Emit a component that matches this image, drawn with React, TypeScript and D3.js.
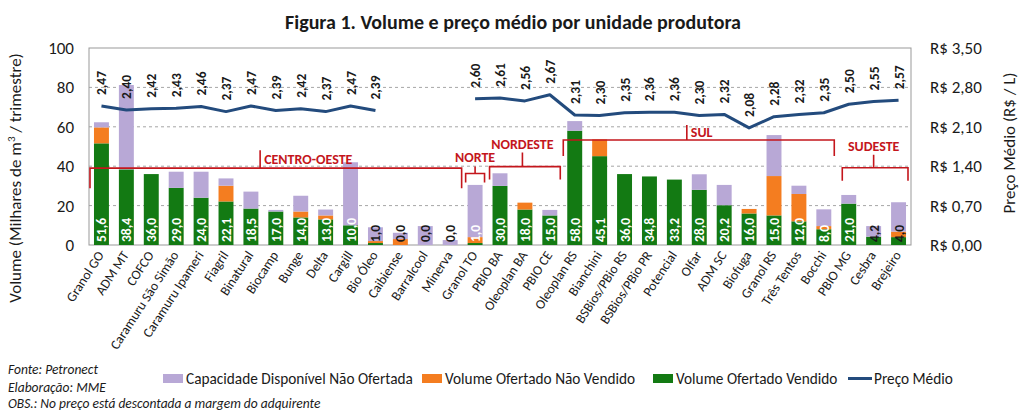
import React from 'react';
import * as d3 from 'd3';

const categories = [
  'Granol GO', 'ADM MT', 'COFCO', 'Caramuru São Simão', 'Caramuru Ipameri', 'Fiagril',
  'Binatural', 'Biocamp', 'Bunge', 'Delta', 'Cargill', 'Bio Óleo', 'Caibiense',
  'Barralcool', 'Minerva', 'Granol TO', 'PBIO BA', 'Oleoplan BA', 'PBIO CE',
  'Oleoplan RS', 'Bianchini', 'BSBios/PBio RS', 'BSBios/PBio PR', 'Potencial',
  'Olfar', 'ADM SC', 'Biofuga', 'Granol RS', 'Três Tentos', 'Bocchi', 'PBIO MG',
  'Cesbra', 'Brejeiro',
];

const vendido = [
  51.6, 38.4, 36.0, 29.0, 24.0, 22.1, 18.5, 17.0, 14.0, 13.0, 10.0, 1.0, 0.0,
  0.0, 0.0, 1.0, 30.0, 18.0, 15.0, 58.0, 45.1, 36.0, 34.8, 33.2, 28.0, 20.2,
  16.0, 15.0, 12.0, 8.0, 21.0, 4.2, 4.0,
];

const naoVendido = [
  8.1, 0, 0, 0, 0, 8.0, 0, 0, 3.0, 2.0, 0, 1.0, 3.0, 0, 0, 3.0, 0, 3.5, 0,
  0, 8.5, 0, 0, 0, 0, 0, 2.3, 20.0, 13.9, 1.6, 0, 0, 2.8,
];

const capacidade = [
  2.6, 42.8, 0, 8.2, 13.2, 3.7, 8.6, 0.8, 8.0, 3.0, 32.0, 7.0, 3.2, 9.6, 2.5,
  26.5, 6.4, 0, 2.8, 4.9, 0, 0, 0, 0, 7.9, 10.3, 0, 20.8, 4.2, 8.5, 4.4, 5.4, 14.9,
];

const precos: (number | null)[] = [
  2.47, 2.40, 2.42, 2.43, 2.46, 2.37, 2.47, 2.39, 2.42, 2.37, 2.47, 2.39, null,
  null, null, 2.60, 2.61, 2.56, 2.67, 2.31, 2.30, 2.35, 2.36, 2.36, 2.30, 2.32,
  2.08, 2.28, 2.32, 2.35, 2.50, 2.55, 2.57,
];

const volumeTicks = [0, 20, 40, 60, 80, 100];
const precoTicks = [0, 0.7, 1.4, 2.1, 2.8, 3.5];

const regionNames = ['CENTRO-OESTE', 'NORTE', 'NORDESTE', 'SUL', 'SUDESTE'];
const regionFirst = [0, 15, 16, 19, 30];
const regionLast = [14, 15, 18, 29, 32];
const regionLevel = [39, 36.3, 39.8, 53.3, 39.2];

const seriesNames = ['Capacidade Disponível Não Ofertada', 'Volume Ofertado Não Vendido', 'Volume Ofertado Vendido', 'Preço Médio'];

// layout (not data)
const W = 1024, H = 416;
const M = { left: 89, right: 911, top: 48, bottom: 245 };
const FONT = 'Carlito, Calibri, Lato, sans-serif';
const C = {
  green: '#137A13', orange: '#F47D20', lav: '#B8A8D6', line: '#234B7D',
  red: '#C4161C', grid: '#A6A6A6', text: '#1A1A1A',
};
const bracketTickAt = [6.87, 15.5, 17.4, 24.0, 31.5];
const bracketDrop = [20, 9, 13, 16, 13];
const bracketTick = [18, 7, 14, 15, 13];
const bracketInsetL = [1, 3, 2, 1, 6];
const bracketInsetR = [1, 3, 2, 2, 3];
const bracketLabelRight = [true, false, false, true, false];
const legendX = [163, 422, 653, 848];

export default function App() {
  const x = d3.scaleBand<string>().domain(categories).range([M.left, M.right]).paddingInner(0.4).paddingOuter(0.2);
  const y = d3.scaleLinear().domain([0, 100]).range([M.bottom, M.top]);
  const yR = d3.scaleLinear().domain([0, 3.5]).range([M.bottom, M.top]);
  const step = x.step();
  const bw = x.bandwidth();
  const cx = (i: number) => (x(categories[i]) as number) + bw / 2;
  const xu = (u: number) => M.left + u * step;

  const stackData = categories.map((c, i) => ({ c, v: vendido[i], n: naoVendido[i], k: capacidade[i] }));
  const stack = d3.stack<any>().keys(['v', 'n', 'k'])(stackData);
  const colors = [C.green, C.orange, C.lav];

  const line = d3.line<number | null>()
    .defined((d) => d != null)
    .x((_, i) => cx(i))
    .y((d) => yR(d as number));

  const fmt = (v: number) => d3.format('.1f')(v).replace('.', ',');
  const fmt2 = (v: number) => d3.format('.2f')(v).replace('.', ',');

  return (
    <svg width={W} height={H} style={{ position: 'absolute', left: 0, top: 0, display: 'block', background: '#fff' }} fontFamily={FONT}>
      <rect x={0} y={0} width={W} height={H} fill="#fff" />
      <text x={513} y={29} textAnchor="middle" fontSize={20} fontWeight="bold" fill={C.text}>
        Figura 1. Volume e preço médio por unidade produtora
      </text>

      {volumeTicks.filter((t) => t > 0 && t < 100).map((t) => (
        <line key={t} x1={M.left} x2={M.right} y1={y(t)} y2={y(t)} stroke={C.grid} strokeDasharray="3,3" strokeWidth={1} />
      ))}
      <rect x={M.left} y={M.top} width={M.right - M.left} height={M.bottom - M.top} fill="none" stroke="#999" strokeWidth={1} />

      {stack.map((s, si) => (
        <g key={si} fill={colors[si]}>
          {s.map((d, i) => (d[1] - d[0] > 0 ? (
            <rect key={i} x={x(categories[i])} y={y(d[1])} width={bw} height={y(d[0]) - y(d[1])} />
          ) : null))}
        </g>
      ))}

      {vendido.map((v, i) => (
        <text key={i} transform={`translate(${cx(i) + 5},${M.bottom - 3}) rotate(-90)`} fontSize={13.5} fontWeight="bold"
          fill={v >= 5 || i === 15 ? '#fff' : C.text}>{fmt(v)}</text>
      ))}

      {regionNames.map((name, r) => {
        const x1 = xu(regionFirst[r]) + bracketInsetL[r];
        const x2 = xu(regionLast[r] + 1) - bracketInsetR[r];
        const ly = y(regionLevel[r]);
        const tx = xu(bracketTickAt[r]);
        const top = ly - bracketTick[r];
        return (
          <g key={name}>
            <path d={`M${x1},${ly + bracketDrop[r]}V${ly}H${x2}V${ly + bracketDrop[r]}M${tx},${ly}V${top}`}
              fill="none" stroke={C.red} strokeWidth={1.6} />
            {bracketLabelRight[r] ? (
              <text x={tx + 4} y={(top + ly) / 2 + 5} fontSize={14} fontWeight="bold" fill={C.red}>{name}</text>
            ) : (
              <text x={tx} y={top - 4} textAnchor="middle" fontSize={14} fontWeight="bold" fill={C.red}>{name}</text>
            )}
          </g>
        );
      })}

      <path d={line(precos) || ''} fill="none" stroke={C.line} strokeWidth={3} strokeLinejoin="round" />
      {precos.map((p, i) => (p == null ? null : (
        <text key={i} transform={`translate(${cx(i) + 5},${yR(p) - 11}) rotate(-90)`} fontSize={13.5} fontWeight="bold" fill={C.text}>
          {fmt2(p)}
        </text>
      )))}

      {volumeTicks.map((t) => (
        <text key={t} x={74} y={y(t)} dy="0.35em" textAnchor="end" fontSize={17} fill={C.text}>{t}</text>
      ))}
      <text transform={`translate(15,178) rotate(-90)`} textAnchor="middle" dy="0.35em" fontSize={17} fill={C.text}>
        Volume (Milhares de m<tspan dy="-6" fontSize={11}>3</tspan><tspan dy="6"> / trimestre)</tspan>
      </text>

      {precoTicks.map((t) => (
        <text key={t} x={930} y={yR(t)} dy="0.35em" fontSize={17} fill={C.text}>R$ {fmt2(t)}</text>
      ))}
      <text transform={`translate(1009,143) rotate(-90)`} textAnchor="middle" dy="0.35em" fontSize={17} fill={C.text}>
        Preço Médio (R$ / L)
      </text>

      {categories.map((c, i) => (
        <text key={c} transform={`translate(${cx(i) + 3},${M.bottom + 10}) rotate(-57)`} textAnchor="end" fontSize={13.5} fill={C.text}>
          {c}
        </text>
      ))}

      {seriesNames.map((n, i) => (
        <g key={n}>
          {i < 3 ? (
            <rect x={legendX[i]} y={374} width={20} height={9} fill={[C.lav, C.orange, C.green][i]} />
          ) : (
            <line x1={legendX[i]} x2={legendX[i] + 24} y1={378.5} y2={378.5} stroke={C.line} strokeWidth={3} />
          )}
          <text x={legendX[i] + (i < 3 ? 23 : 26)} y={378.5} dy="0.35em" fontSize={15.3} fill={C.text}>{n}</text>
        </g>
      ))}

      <g fontStyle="italic" fontSize={13.5} fill={C.text}>
        <text x={8} y={374}>Fonte: Petronect</text>
        <text x={8} y={392}>Elaboração: MME</text>
        <text x={8} y={408}>OBS.: No preço está descontada a margem do adquirente</text>
      </g>
    </svg>
  );
}
